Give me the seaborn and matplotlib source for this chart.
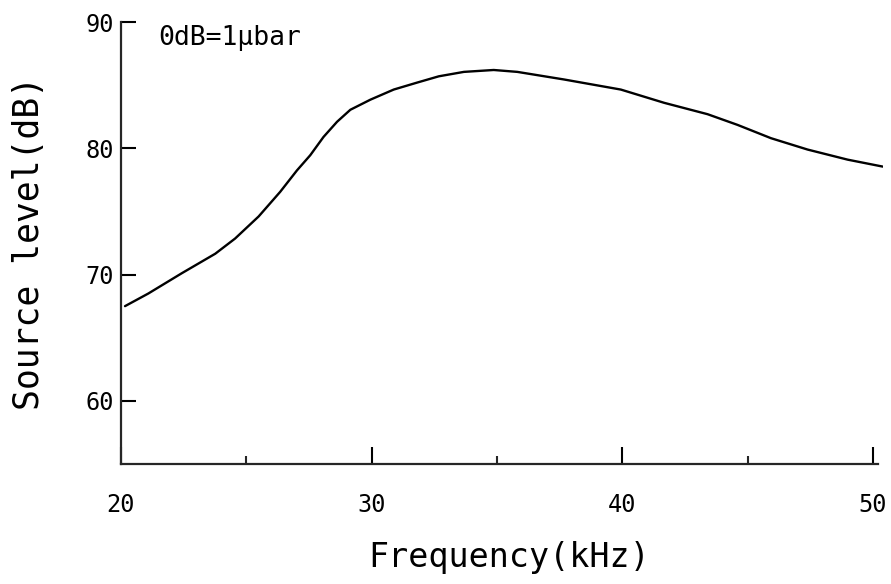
import numpy as np
import pandas as pd
import matplotlib
matplotlib.use("Agg")
import matplotlib.pyplot as plt
import seaborn as sns

# Valeurs
freq_khz = [20.16, 21.09, 22.42, 23.76, 24.55, 25.49, 26.35, 27.02, 27.55, 28.08,
            28.62, 29.15, 29.95, 30.88, 31.81, 32.68, 33.68, 34.87, 35.81, 37.67,
            39.94, 41.67, 43.40, 44.60, 45.93, 47.39, 48.99, 50.39]
level_db = [67.5, 68.5, 70.1, 71.65, 72.85, 74.6, 76.55, 78.25, 79.45, 80.9,
            82.1, 83.05, 83.85, 84.65, 85.2, 85.7, 86.05, 86.2, 86.05, 85.45,
            84.65, 83.6, 82.7, 81.85, 80.8, 79.9, 79.1, 78.55]

x_major = [20, 30, 40, 50]
x_minor = [25, 35, 45]
y_major = [60, 70, 80, 90]

note = "0dB=1\u00b5bar"
x_label = "Frequency(kHz)"
y_label = "Source level(dB)"

df = pd.DataFrame({"freq": freq_khz, "level": level_db})

sns.set_theme(style="ticks")
plt.rcParams['font.family'] = ['DejaVu Sans Mono', 'DejaVu Sans']

fig = plt.figure(figsize=(8.91, 5.84), dpi=100)
ax = fig.add_axes([121 / 891, 120 / 584, (883 - 121) / 891, (562 - 120) / 584])

sns.lineplot(data=df, x="freq", y="level", color="black", linewidth=1.7, ax=ax)

ax.set_xlim(20, 50.4)
ax.set_ylim(55, 90)
ax.set_xticks(x_major)
ax.set_xticks(x_minor, minor=True)
ax.set_yticks(y_major)

sns.despine(ax=ax)
ax.spines["left"].set_linewidth(1.6)
ax.spines["bottom"].set_linewidth(1.6)
ax.spines["bottom"].set_bounds(20, 50.2)

ax.tick_params(axis="x", which="major", direction="in", length=12, width=1.5,
               pad=21, labelsize=17, colors="black")
ax.tick_params(axis="x", which="minor", direction="in", length=6, width=1.5)
ax.tick_params(axis="y", direction="in", length=11, width=1.5,
               pad=5, labelsize=17, colors="black")

ax.set_xlabel(x_label, fontsize=24, color="black")
ax.set_ylabel(y_label, fontsize=25, color="black")
ax.xaxis.set_label_coords(0.509, -0.175)
ax.yaxis.set_label_coords(-0.098, 0.50)

ax.text(21.5, 88.7, note, fontsize=19, va="center", ha="left", color="black")

fig.savefig("out.png", dpi=100)
